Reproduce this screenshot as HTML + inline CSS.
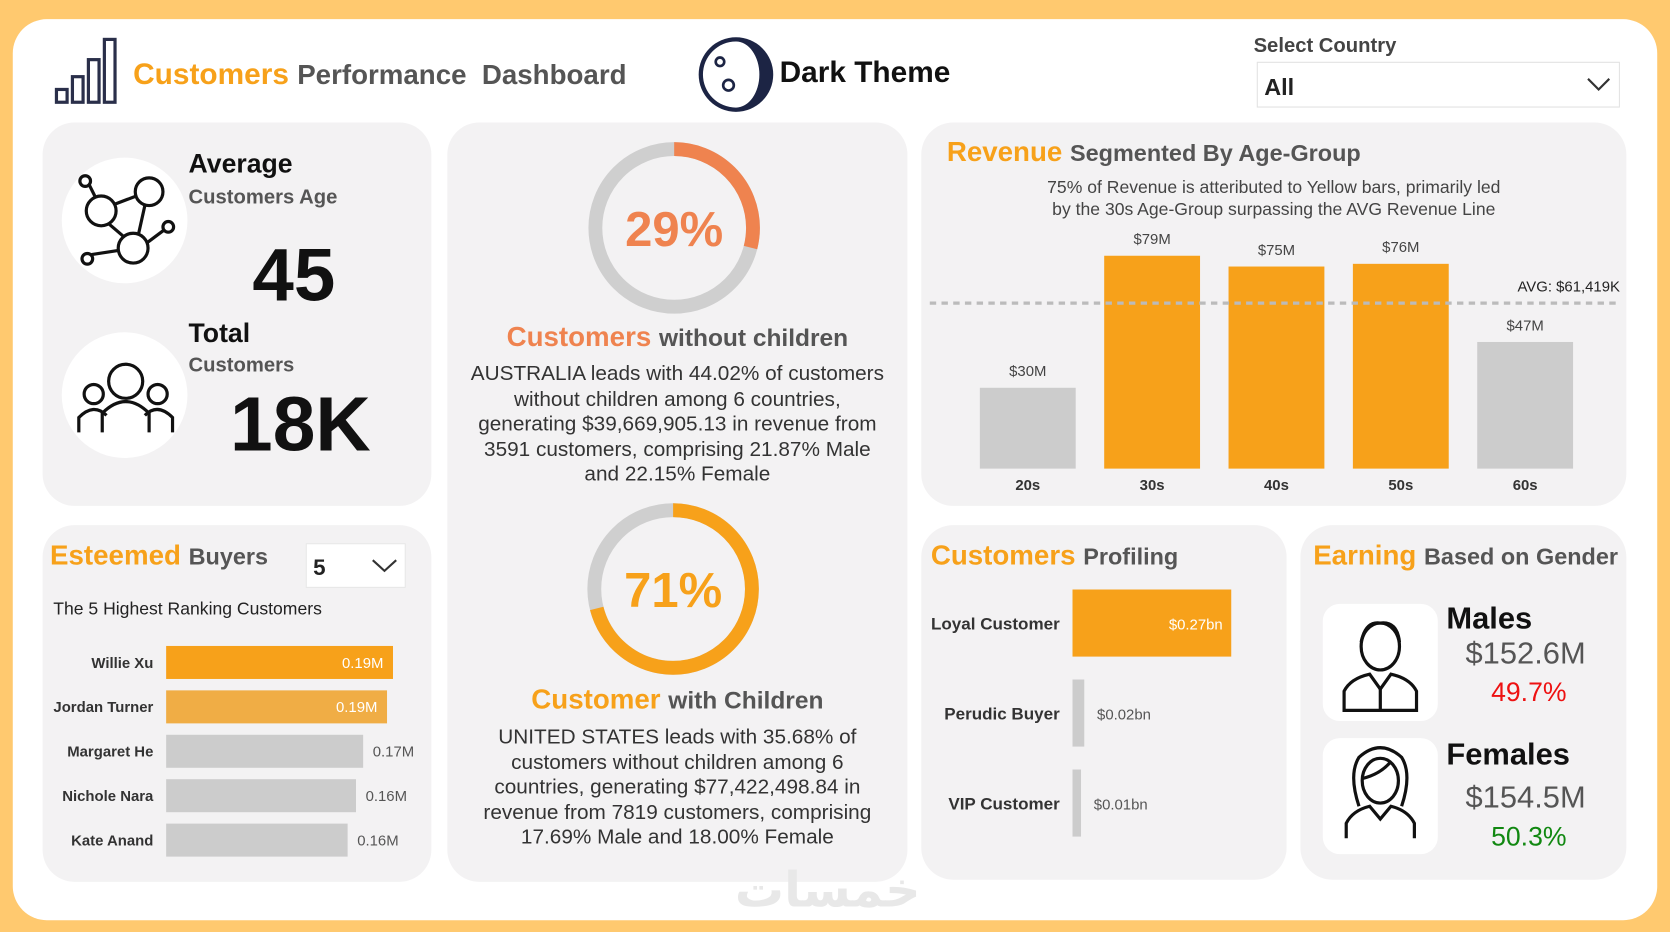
<!DOCTYPE html>
<html><head><meta charset="utf-8">
<style>
html,body{margin:0;padding:0;width:1670px;height:932px;overflow:hidden;background:#FFC96F;}
#stage{position:absolute;left:0;top:0;width:1568px;height:875px;transform:scale(1.06505);transform-origin:0 0;font-family:"Liberation Sans",sans-serif;}
.abs{position:absolute;}
.card{position:absolute;background:#F3F2F3;border-radius:30px;}
.or{color:#F7A11A;}
.gr{color:#555;}
.t{position:absolute;white-space:nowrap;}
</style></head><body>
<div id="stage">
<div class="abs" style="left:12px;top:18px;width:1544px;height:846px;background:#fff;border-radius:32px;"></div>

<svg class="abs" style="left:50px;top:34px" width="68" height="66"><g fill="none" stroke="#2a2f4a" stroke-width="3"><rect x="3" y="50" width="10" height="12"/><rect x="18" y="38" width="10" height="24"/><rect x="33" y="22" width="10" height="40"/><rect x="48" y="3" width="10" height="59"/></g></svg>
<div class="t" style="left:125px;top:54px;font-size:28px;font-weight:bold;"><span class="or">Customers</span> <span class="gr" style="font-size:26px">Performance&nbsp; Dashboard</span></div>

<svg class="abs" style="left:654px;top:34px" width="74" height="74"><circle cx="37" cy="36" r="35" fill="#1C2444"/><path d="M37 5 A31 31 0 0 0 37 67 A22 31 0 0 0 37 5Z" fill="#fff"/><g fill="none" stroke="#1C2444" stroke-width="2.5"><circle cx="22" cy="24" r="4"/><circle cx="30" cy="46" r="5"/><circle cx="45" cy="38" r="4" stroke="#fff"/><circle cx="50" cy="22" r="3" stroke="#fff"/></g></svg>
<div class="t" style="left:732px;top:52px;font-size:28px;font-weight:bold;color:#111;">Dark Theme</div>

<div class="t" style="left:1177px;top:33px;font-size:19px;font-weight:bold;color:#444;">Select Country</div>
<div class="abs" style="left:1180px;top:58px;width:339px;height:41px;background:#fff;border:1px solid #e2e2e2;">
<div class="t" style="left:6px;top:10px;font-size:22px;font-weight:bold;color:#222;">All</div>
<svg class="abs" style="left:308px;top:12px" width="24" height="16"><polyline points="2,3 12,13 22,3" fill="none" stroke="#333" stroke-width="2"/></svg></div>

<!-- Panel 1 -->
<div class="card" style="left:40px;top:115px;width:365px;height:360px;"></div>
<div class="abs" style="left:58px;top:148px;width:118px;height:118px;border-radius:50%;background:#fff;"></div>
<svg class="abs" style="left:70px;top:158px" width="96" height="96"><g fill="none" stroke="#111" stroke-width="3"><circle cx="25" cy="40" r="14"/><circle cx="70" cy="22" r="13"/><circle cx="55" cy="75" r="14"/><circle cx="10" cy="12" r="5"/><circle cx="88" cy="55" r="5"/><circle cx="12" cy="85" r="5"/><line x1="14" y1="16" x2="20" y2="28"/><line x1="37" y1="34" x2="58" y2="26"/><line x1="32" y1="52" x2="46" y2="64"/><line x1="66" y1="35" x2="60" y2="62"/><line x1="68" y1="70" x2="84" y2="58"/><line x1="16" y1="81" x2="42" y2="77"/></g></svg>
<div class="t" style="left:177px;top:140px;font-size:25px;font-weight:bold;color:#111;">Average</div>
<div class="t" style="left:177px;top:175px;font-size:19px;font-weight:bold;color:#555;">Customers Age</div>
<div class="t" style="left:237px;top:218px;font-size:70px;font-weight:bold;color:#111;">45</div>
<div class="abs" style="left:58px;top:312px;width:118px;height:118px;border-radius:50%;background:#fff;"></div>
<svg class="abs" style="left:70px;top:336px" width="96" height="72"><g fill="none" stroke="#111" stroke-width="3"><circle cx="48" cy="22" r="16"/><path d="M26 70 V52 Q48 30 70 52 V70"/><circle cx="18" cy="34" r="9"/><circle cx="78" cy="34" r="9"/><path d="M4 70 V56 Q18 42 30 54"/><path d="M92 70 V56 Q78 42 66 54"/></g></svg>
<div class="t" style="left:177px;top:299px;font-size:25px;font-weight:bold;color:#111;">Total</div>
<div class="t" style="left:177px;top:333px;font-size:19px;font-weight:bold;color:#555;">Customers</div>
<div class="t" style="left:216px;top:358px;font-size:72px;font-weight:bold;color:#111;">18K</div>

<!-- Panel 2 -->
<div class="card" style="left:420px;top:115px;width:432px;height:713px;"></div>
<svg class="abs" id="donuts" style="left:420px;top:115px" width="432" height="713"></svg>
<div class="t" style="left:420px;width:432px;text-align:center;top:301px;font-size:26px;font-weight:bold;"><span style="color:#EF834F">Customers</span> <span class="gr" style="font-size:23px">without children</span></div>
<div class="abs" style="left:420px;width:432px;text-align:center;top:340px;font-size:19.5px;line-height:23.5px;color:#333;">AUSTRALIA leads with 44.02% of customers<br>without children among 6 countries,<br>generating $39,669,905.13 in revenue from<br>3591 customers, comprising 21.87% Male<br>and 22.15% Female</div>
<div class="t" style="left:420px;width:432px;text-align:center;top:641px;font-size:26px;font-weight:bold;"><span class="or">Customer</span> <span class="gr" style="font-size:23px">with Children</span></div>
<div class="abs" style="left:420px;width:432px;text-align:center;top:681px;font-size:19.5px;line-height:23.5px;color:#333;">UNITED STATES leads with 35.68% of<br>customers without children among 6<br>countries, generating $77,422,498.84 in<br>revenue from 7819 customers, comprising<br>17.69% Male and 18.00% Female</div>

<!-- Panel 3 -->
<div class="card" style="left:865px;top:115px;width:662px;height:360px;"></div>
<div class="t" style="left:889px;top:127px;font-size:26px;font-weight:bold;"><span class="or">Revenue</span> <span class="gr" style="font-size:22px">Segmented By Age-Group</span></div>
<div class="abs" style="left:865px;width:662px;text-align:center;top:166px;font-size:16.5px;line-height:21px;color:#444;">75% of Revenue is atteributed to Yellow bars, primarily led<br>by the 30s Age-Group surpassing the AVG Revenue Line</div>
<svg class="abs" id="rev" style="left:0;top:0" width="1568" height="875"></svg>

<!-- Panel 4 -->
<div class="card" style="left:40px;top:493px;width:365px;height:335px;"></div>
<div class="t" style="left:47px;top:506px;font-size:26px;font-weight:bold;"><span class="or">Esteemed</span> <span class="gr" style="font-size:22px">Buyers</span></div>
<div class="abs" style="left:287px;top:510px;width:92px;height:40px;background:#fff;border:1px solid #e6e6e6;">
<div class="t" style="left:6px;top:11px;font-size:21px;font-weight:bold;color:#222;">5</div>
<svg class="abs" style="left:60px;top:12px" width="26" height="16"><polyline points="2,3 13,13 24,3" fill="none" stroke="#333" stroke-width="2"/></svg></div>
<div class="t" style="left:50px;top:563px;font-size:16.5px;color:#222;">The 5 Highest Ranking Customers</div>
<svg class="abs" id="buy" style="left:0;top:0" width="1568" height="875"></svg>

<!-- Panel 5 -->
<div class="card" style="left:865px;top:493px;width:343px;height:333px;"></div>
<div class="t" style="left:874px;top:506px;font-size:26px;font-weight:bold;"><span class="or">Customers</span> <span class="gr" style="font-size:22px">Profiling</span></div>
<svg class="abs" id="prof" style="left:0;top:0" width="1568" height="875"></svg>

<!-- Panel 6 -->
<div class="card" style="left:1221px;top:493px;width:306px;height:333px;"></div>
<div class="t" style="left:1233px;top:506px;font-size:26px;font-weight:bold;"><span class="or">Earning</span> <span class="gr" style="font-size:22px">Based on Gender</span></div>
<div class="abs" style="left:1242px;top:567px;width:108px;height:110px;background:#fff;border-radius:16px;"></div>
<svg class="abs" style="left:1258px;top:577px" width="76" height="92"><g fill="none" stroke="#111" stroke-width="3"><ellipse cx="38" cy="30" rx="18" ry="22"/><path d="M20 26 Q24 6 38 8 Q54 6 56 26"/><path d="M4 90 V72 Q10 60 28 56 L38 70 L48 56 Q66 60 72 72 V90 Z"/><line x1="38" y1="70" x2="38" y2="90"/></g></svg>
<div class="abs" style="left:1242px;top:693px;width:108px;height:109px;background:#fff;border-radius:16px;"></div>
<svg class="abs" style="left:1258px;top:697px" width="76" height="92"><g fill="none" stroke="#111" stroke-width="3"><ellipse cx="38" cy="36" rx="17" ry="21"/><path d="M18 60 Q8 30 18 14 Q38 -4 58 14 Q68 30 58 60"/><path d="M21 34 Q38 30 48 18"/><path d="M6 90 V76 Q12 64 28 60 L38 72 L48 60 Q64 64 70 76 V90"/></g></svg>
<div class="t" style="left:1358px;top:565px;font-size:29px;font-weight:bold;color:#111;">Males</div>
<div class="t" style="left:1376px;top:598px;font-size:29px;color:#555;">$152.6M</div>
<div class="t" style="left:1400px;top:636px;font-size:25px;color:#EE1111;">49.7%</div>
<div class="t" style="left:1358px;top:693px;font-size:29px;font-weight:bold;color:#111;">Females</div>
<div class="t" style="left:1376px;top:733px;font-size:29px;color:#555;">$154.5M</div>
<div class="t" style="left:1400px;top:772px;font-size:25px;color:#118811;">50.3%</div>

<div class="t" style="left:690px;top:808px;font-size:46px;font-weight:bold;color:#e8e8e8;font-family:'DejaVu Sans',sans-serif;">خمسات</div>
</div>

<script>
// Donut data
const donutValues = [29, 71];
const donutLabels = ["29%", "71%"];
// Revenue data
const ageGroups = ["20s","30s","40s","50s","60s"];
const revenueM = [30, 79, 75, 76, 47];
const revenueLabels = ["$30M","$79M","$75M","$76M","$47M"];
const avgRevenueM = 61.419;
const avgLabel = "AVG: $61,419K";
// Buyers data
const buyerNames = ["Willie Xu","Jordan Turner","Margaret He","Nichole Nara","Kate Anand"];
const buyerValues = [0.190, 0.185, 0.165, 0.159, 0.152];
const buyerLabels = ["0.19M","0.19M","0.17M","0.16M","0.16M"];
// Profiling data
const profileNames = ["Loyal Customer","Perudic Buyer","VIP Customer"];
const profileValues = [0.27, 0.02, 0.01];
const profileLabels = ["$0.27bn","$0.02bn","$0.01bn"];

const NS="http://www.w3.org/2000/svg";
function mk(p,tag,a){const e=document.createElementNS(NS,tag);for(const k in a)e.setAttribute(k,a[k]);p.appendChild(e);return e;}

// donuts
const dn=document.getElementById('donuts');
const dCfg=[{cx:213,cy:99,r:74,col:"#EF834F"},{cx:212,cy:438,r:74,col:"#F7A11A"}];
donutValues.forEach((v,i)=>{
  const c=dCfg[i],C=2*Math.PI*c.r;
  const bg=mk(dn,'circle',{cx:c.cx,cy:c.cy,r:c.r,fill:'none',stroke:'#CFCFCF','stroke-width':13});
  
  
  const arc=mk(dn,'circle',{cx:c.cx,cy:c.cy,r:c.r,fill:'none',stroke:c.col,'stroke-width':13,'stroke-dasharray':(C*v/100)+' '+C,transform:`rotate(-90 ${c.cx} ${c.cy})`});
  
  
  const t=mk(dn,'text',{x:c.cx,y:c.cy+17,'text-anchor':'middle','font-size':46,'font-weight':'bold',fill:c.col,'font-family':'Liberation Sans'});
  t.textContent=donutLabels[i];
  
  
});

// revenue bars
const rv=document.getElementById('rev');
const base=440, ppm=2.53, x0=965, step=116.75, bw=90;
const y=v=>base-v*ppm;
const ay=y(avgRevenueM);
revenueM.forEach((v,i)=>{
  const cx=x0+i*step, col=v>avgRevenueM?'#F7A11A':'#CCCCCC';
  const r=mk(rv,'rect',{x:cx-bw/2,y:y(v),width:bw,height:v*ppm,fill:col});
  
  
  const l=mk(rv,'text',{x:cx,y:y(v)-11,'text-anchor':'middle','font-size':14,fill:'#444'});
  l.textContent=revenueLabels[i];
  
  
  const c=mk(rv,'text',{x:cx,y:base+20,'text-anchor':'middle','font-size':14,'font-weight':'bold',fill:'#333'});
  c.textContent=ageGroups[i];
  
  
});
const al=mk(rv,'line',{x1:873,x2:1522,y1:ay,y2:ay,stroke:'#BBBBBB','stroke-width':3,'stroke-dasharray':'6 5'});


const at=mk(rv,'text',{x:1521,y:ay-11,'text-anchor':'end','font-size':14,fill:'#222'});
at.textContent=avgLabel;



// buyers
const bv=document.getElementById('buy');
const bx=156, bpx=1121, by0=622, bstep=41.7, bh=31;
buyerValues.forEach((v,i)=>{
  const cy=by0+i*bstep, w=v*bpx;
  const col=i===0?'#F7A11A':(i===1?'#F0AD45':'#CCCCCC');
  const r=mk(bv,'rect',{x:bx,y:cy-bh/2,width:w,height:bh,fill:col});
  
  
  const n=mk(bv,'text',{x:144,y:cy+5,'text-anchor':'end','font-size':14,'font-weight':'bold',fill:'#333'});
  n.textContent=buyerNames[i];
  
  
  const inside=i<2;
  const l=mk(bv,'text',{x:inside?bx+w-9:bx+w+9,y:cy+5,'text-anchor':inside?'end':'start','font-size':14,fill:inside?'#fff':'#555'});
  l.textContent=buyerLabels[i];
  
  
});

// profiling
const pv=document.getElementById('prof');
const px=1007, ppb=552, py0=585, pstep=84.5, ph=63;
profileValues.forEach((v,i)=>{
  const cy=py0+i*pstep, w=Math.max(v*ppb,8);
  const col=i===0?'#F7A11A':'#CCCCCC';
  const r=mk(pv,'rect',{x:px,y:cy-ph/2,width:w,height:ph,fill:col});
  
  
  const n=mk(pv,'text',{x:995,y:cy+6,'text-anchor':'end','font-size':16,'font-weight':'bold',fill:'#333'});
  n.textContent=profileNames[i];
  
  
  const inside=i===0;
  const l=mk(pv,'text',{x:inside?px+w-8:px+w+12,y:cy+6,'text-anchor':inside?'end':'start','font-size':14,fill:inside?'#fff':'#555'});
  l.textContent=profileLabels[i];
  
  
});
</script>
</body></html>
